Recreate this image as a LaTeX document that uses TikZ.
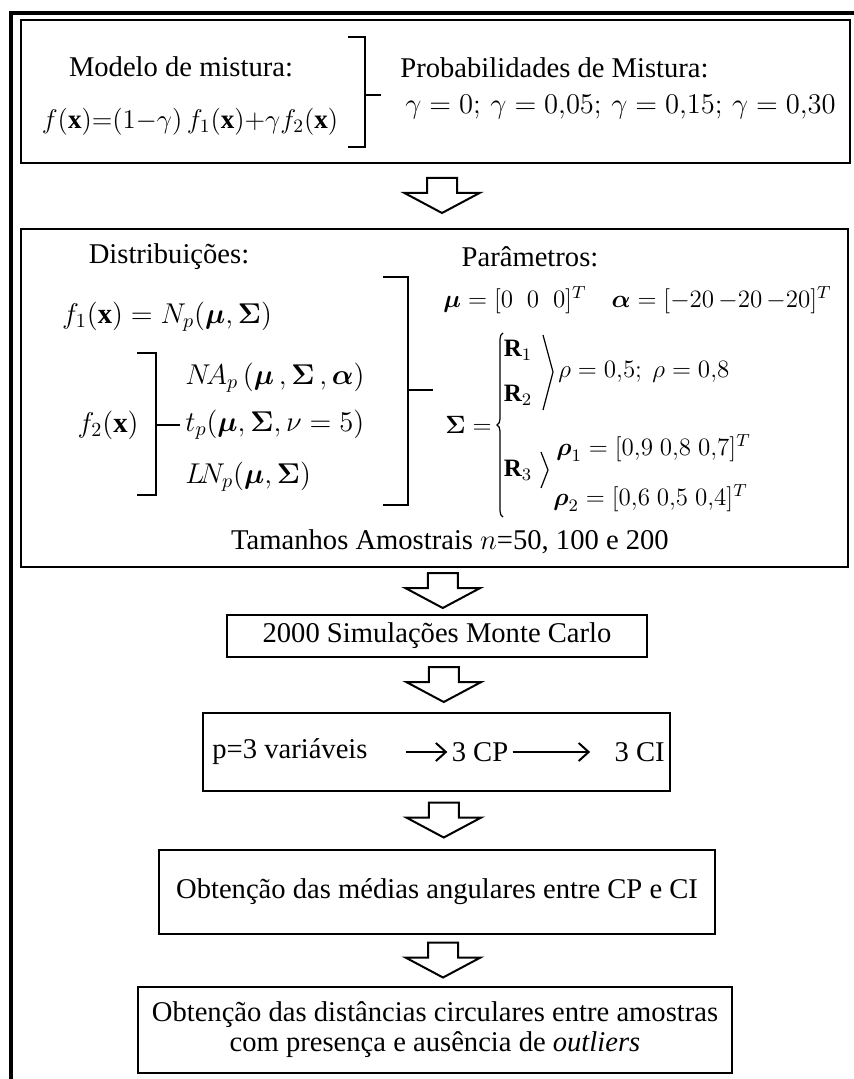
\documentclass[tikz,border=0pt]{standalone}
\usepackage{fix-cm}
\usepackage{amsmath}
\usepackage{fontspec}
\setmainfont{Liberation Serif}
\usepackage{tikz}
\usetikzlibrary{positioning, arrows.meta, calc, decorations.pathreplacing}

\tikzset{
  kasten/.style={draw, line width=1.3pt, inner sep=0pt},
  hohl/.style={draw, line width=1pt, fill=white, line join=miter},
  klammer/.style={line width=0.8pt},
  winkel/.style={line width=0.6pt},
  formel/.style={font=\fontsize{12.5}{15}\selectfont},
  pfeil/.style={-{Straight Barb[length=5pt, width=9pt]}, line width=1pt}
}
% hohler Blockpfeil zwischen zwei Kaesten
\newcommand{\blockpfeil}[3]{%
  \coordinate (#3) at ($(#1.south)!0.5!(#2.north)+(7,0)$);
  \draw[hohl] ($(#3)+(-15,-18)$) -- ($(#3)+(15,-18)$) -- ($(#3)+(15,-3)$)
    -- ($(#3)+(37.5,-3)$) -- ($(#3)+(0,17)$) -- ($(#3)+(-37.5,-3)$)
    -- ($(#3)+(-15,-3)$) -- cycle;}

\begin{document}
\begin{tikzpicture}[x=0.5pt, y=-0.5pt, inner sep=0pt,
    font=\fontsize{14.3}{17}\selectfont]
    \useasboundingbox (0,0) rectangle (853,1079);
    % aeusserer Rahmen
    \draw[line width=1.7pt] (11,1090) -- (11,13) -- (865,13);
    % Kaesten
    \node[kasten, minimum width=414.5pt, minimum height=71.5pt] (mistura) at (435.5,91.5) {};
    \node[kasten, minimum width=413.5pt, minimum height=169pt] (dist) at (434.5,398) {};
    \node[kasten, minimum width=210pt, minimum height=21pt] (sim) at (437,636)
      {2000 Simulações Monte Carlo};
    \node[kasten, minimum width=233.5pt, minimum height=39pt] (varbox) at (436.5,752) {};
    \node[kasten, minimum width=278pt, minimum height=42pt] (medias) at (437,892)
      {Obtenção das médias angulares entre CP e CI};
    \node[kasten, minimum width=297pt, minimum height=43pt, align=center,
      font=\fontsize{14.3}{15}\selectfont] (final) at (435,1030)
      {Obtenção das distâncias circulares entre amostras\\
       com presença e ausência de \textit{outliers}};
    % Blockpfeile
    \blockpfeil{mistura}{dist}{bp1}
    \blockpfeil{dist}{sim}{bp2}
    \blockpfeil{sim}{varbox}{bp3}
    \blockpfeil{varbox}{medias}{bp4}
    \blockpfeil{medias}{final}{bp5}
    % Modell
    \node (modelo) at (181,67) {Modelo de mistura:};
    \node[font=\fontsize{13.5}{15}\selectfont] (fx) at (190,122)
      {$f(\mathbf{x}){=}(1{-}\gamma)\,f_1(\mathbf{x}){+}\gamma f_2(\mathbf{x})$};
    \draw[klammer] (348,37) -- (365,37) -- (365,147) -- (348,147);
    \draw[klammer] (365,95) -- (381,95);
    \node[anchor=west] (probs) at (400,68) {Probabilidades de Mistura:};
    \node[anchor=west] (gammas) at (405,107)
      {$\gamma = 0;\,\gamma = 0{,}05;\,\gamma = 0{,}15;\,\gamma = 0{,}30$};
    % Verteilungen
    \node (distrib) at (169,257) {Distribuições:};
    \node (f1) at (167,317) {$f_1(\mathbf{x}) = N_p(\boldsymbol{\mu},\boldsymbol{\Sigma})$};
    \node (f2) at (108,425) {$f_2(\mathbf{x})$};
    \draw[klammer] (137,353) -- (156,353) -- (156,495) -- (137,495);
    \draw[klammer] (156,425) -- (180,425);
    \node[anchor=west] (na) at (185,378)
      {$N\!A_p\,(\boldsymbol{\mu}\,,\boldsymbol{\Sigma}\,,\boldsymbol{\alpha})$};
    \node[anchor=west] (tp) at (185,425)
      {$t_p(\boldsymbol{\mu},\boldsymbol{\Sigma},\nu=5)$};
    \node[anchor=west] (ln) at (185,477)
      {$L\!N_p(\boldsymbol{\mu},\boldsymbol{\Sigma})$};
    \draw[klammer] (383,277) -- (408,277) -- (408,505) -- (383,505);
    \draw[klammer] (408,390) -- (433,390);
    % Parameter
    \node (param) at (530,257) {Parâmetros:};
    \node[formel, anchor=west] (mu) at (443,300)
      {$\boldsymbol{\mu} = [0\;\;0\;\;0]^T\quad
        \boldsymbol{\alpha} = [-20\,{-}20\,{-}20]^T$};
    \node[formel, anchor=east] (sigma) at (492,425) {$\boldsymbol{\Sigma} =$};
    \draw[winkel, decorate, decoration={brace, amplitude=3pt}] (503,517) -- (503,333);
    \node[formel] (r1) at (518,350) {$\mathbf{R}_1$};
    \node[formel] (r2) at (518,395) {$\mathbf{R}_2$};
    \node[formel] (r3) at (518,470) {$\mathbf{R}_3$};
    \draw[winkel] (543,335) -- (553,372) -- (543,410);
    \draw[winkel] (541,452) -- (548,470) -- (541,488);
    \node[formel, anchor=west] (rho) at (558,372)
      {$\rho = 0{,}5;\ \rho = 0{,}8$};
    \node[formel, anchor=west] (rho1) at (556,448)
      {$\boldsymbol{\rho}_1 = [0{,}9\;0{,}8\;0{,}7]^T$};
    \node[formel, anchor=west] (rho2) at (553,498)
      {$\boldsymbol{\rho}_2 = [0{,}6\;0{,}5\;0{,}4]^T$};
    \node (amostra) at (450,542) {Tamanhos Amostrais $n$=50, 100 e 200};
    % Variablen -> CP -> CI
    \node[anchor=west] (var) at (212,752) {p=3 variáveis};
    \node (cp) at (480,752) {3 CP};
    \node[anchor=east] (ci) at (665,752) {3 CI};
    \draw[pfeil] ([xshift=19pt]var.east) -- ([xshift=-2pt]cp.west);
    \draw[pfeil] ([xshift=2pt]cp.east) -- ([xshift=-12pt]ci.west);
\end{tikzpicture}
\end{document}
